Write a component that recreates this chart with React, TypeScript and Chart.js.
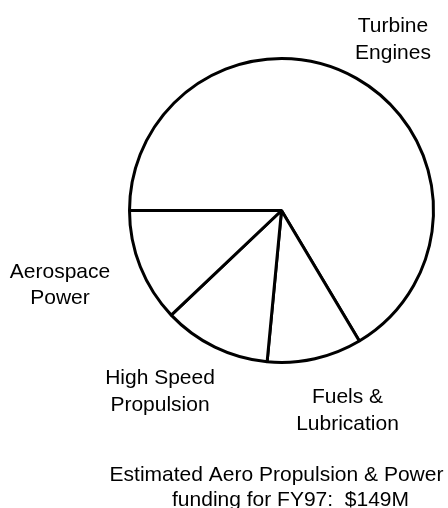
import React, { useEffect, useRef } from "react";
import { Chart, registerables } from "chart.js";

Chart.register(...registerables);

// ---- data ----
const categories = [
  "Turbine Engines",
  "Fuels & Lubrication",
  "High Speed Propulsion",
  "Aerospace Power",
];
const fundingM = [99, 15, 17, 18];
const labelLines = [
  ["Turbine", "Engines"],
  ["Fuels &", "Lubrication"],
  ["High Speed", "Propulsion"],
  ["Aerospace", "Power"],
];
const titleLines = ["Estimated Aero Propulsion & Power", "funding for FY97:  $149M"];

// ---- label layout (offsets from pie centre: centre-x, first baseline) ----
const labelOffsets = [
  [111.5, -178.5],
  [66, 192.5],
  [-121.5, 173.5],
  [-221.5, 67],
];
const titleOffsets = [
  [-5, 270],
  [9, 295.5],
];
const FONT = '21px "Liberation Sans", Arial, Helvetica, sans-serif';
const LINE_H = 26.5;

const textPlugin = {
  id: "pieText",
  afterDraw(chart: any) {
    const meta = chart.getDatasetMeta(0);
    if (!meta || !meta.data.length) return;
    const cx = meta.data[0].x;
    const cy = meta.data[0].y;
    const ctx = chart.ctx;
    ctx.save();
    ctx.font = FONT;
    ctx.fillStyle = "#000";
    ctx.textAlign = "center";
    ctx.textBaseline = "alphabetic";
    labelLines.forEach((lines, i) => {
      const [dx, dy] = labelOffsets[i];
      lines.forEach((t, j) => ctx.fillText(t, cx + dx, cy + dy + j * LINE_H));
    });
    titleLines.forEach((t, j) => {
      const [dx, dy] = titleOffsets[j];
      ctx.fillText(t, cx + dx, cy + dy);
    });
    ctx.restore();
  },
};

export default function App() {
  const ref = useRef<HTMLCanvasElement | null>(null);
  useEffect(() => {
    if (!ref.current) return;
    const chart = new Chart(ref.current, {
      type: "pie",
      data: {
        labels: categories,
        datasets: [
          {
            data: fundingM,
            backgroundColor: "#ffffff",
            borderColor: "#000000",
            borderWidth: 3,
            radius: 152,
          } as any,
        ],
      },
      options: {
        responsive: false,
        animation: false,
        rotation: 270,
        layout: { padding: { left: 115, right: 0, top: 0, bottom: 87 } },
        plugins: {
          legend: { display: false },
          tooltip: { enabled: false },
          title: { display: false },
        },
      },
      plugins: [textPlugin],
    });
    return () => chart.destroy();
  }, []);
  return (
    <div style={{ position: "fixed", left: 0, top: 0, width: 448, height: 508, background: "#fff" }}>
      <canvas ref={ref} width={448} height={508} style={{ display: "block" }} />
    </div>
  );
}
